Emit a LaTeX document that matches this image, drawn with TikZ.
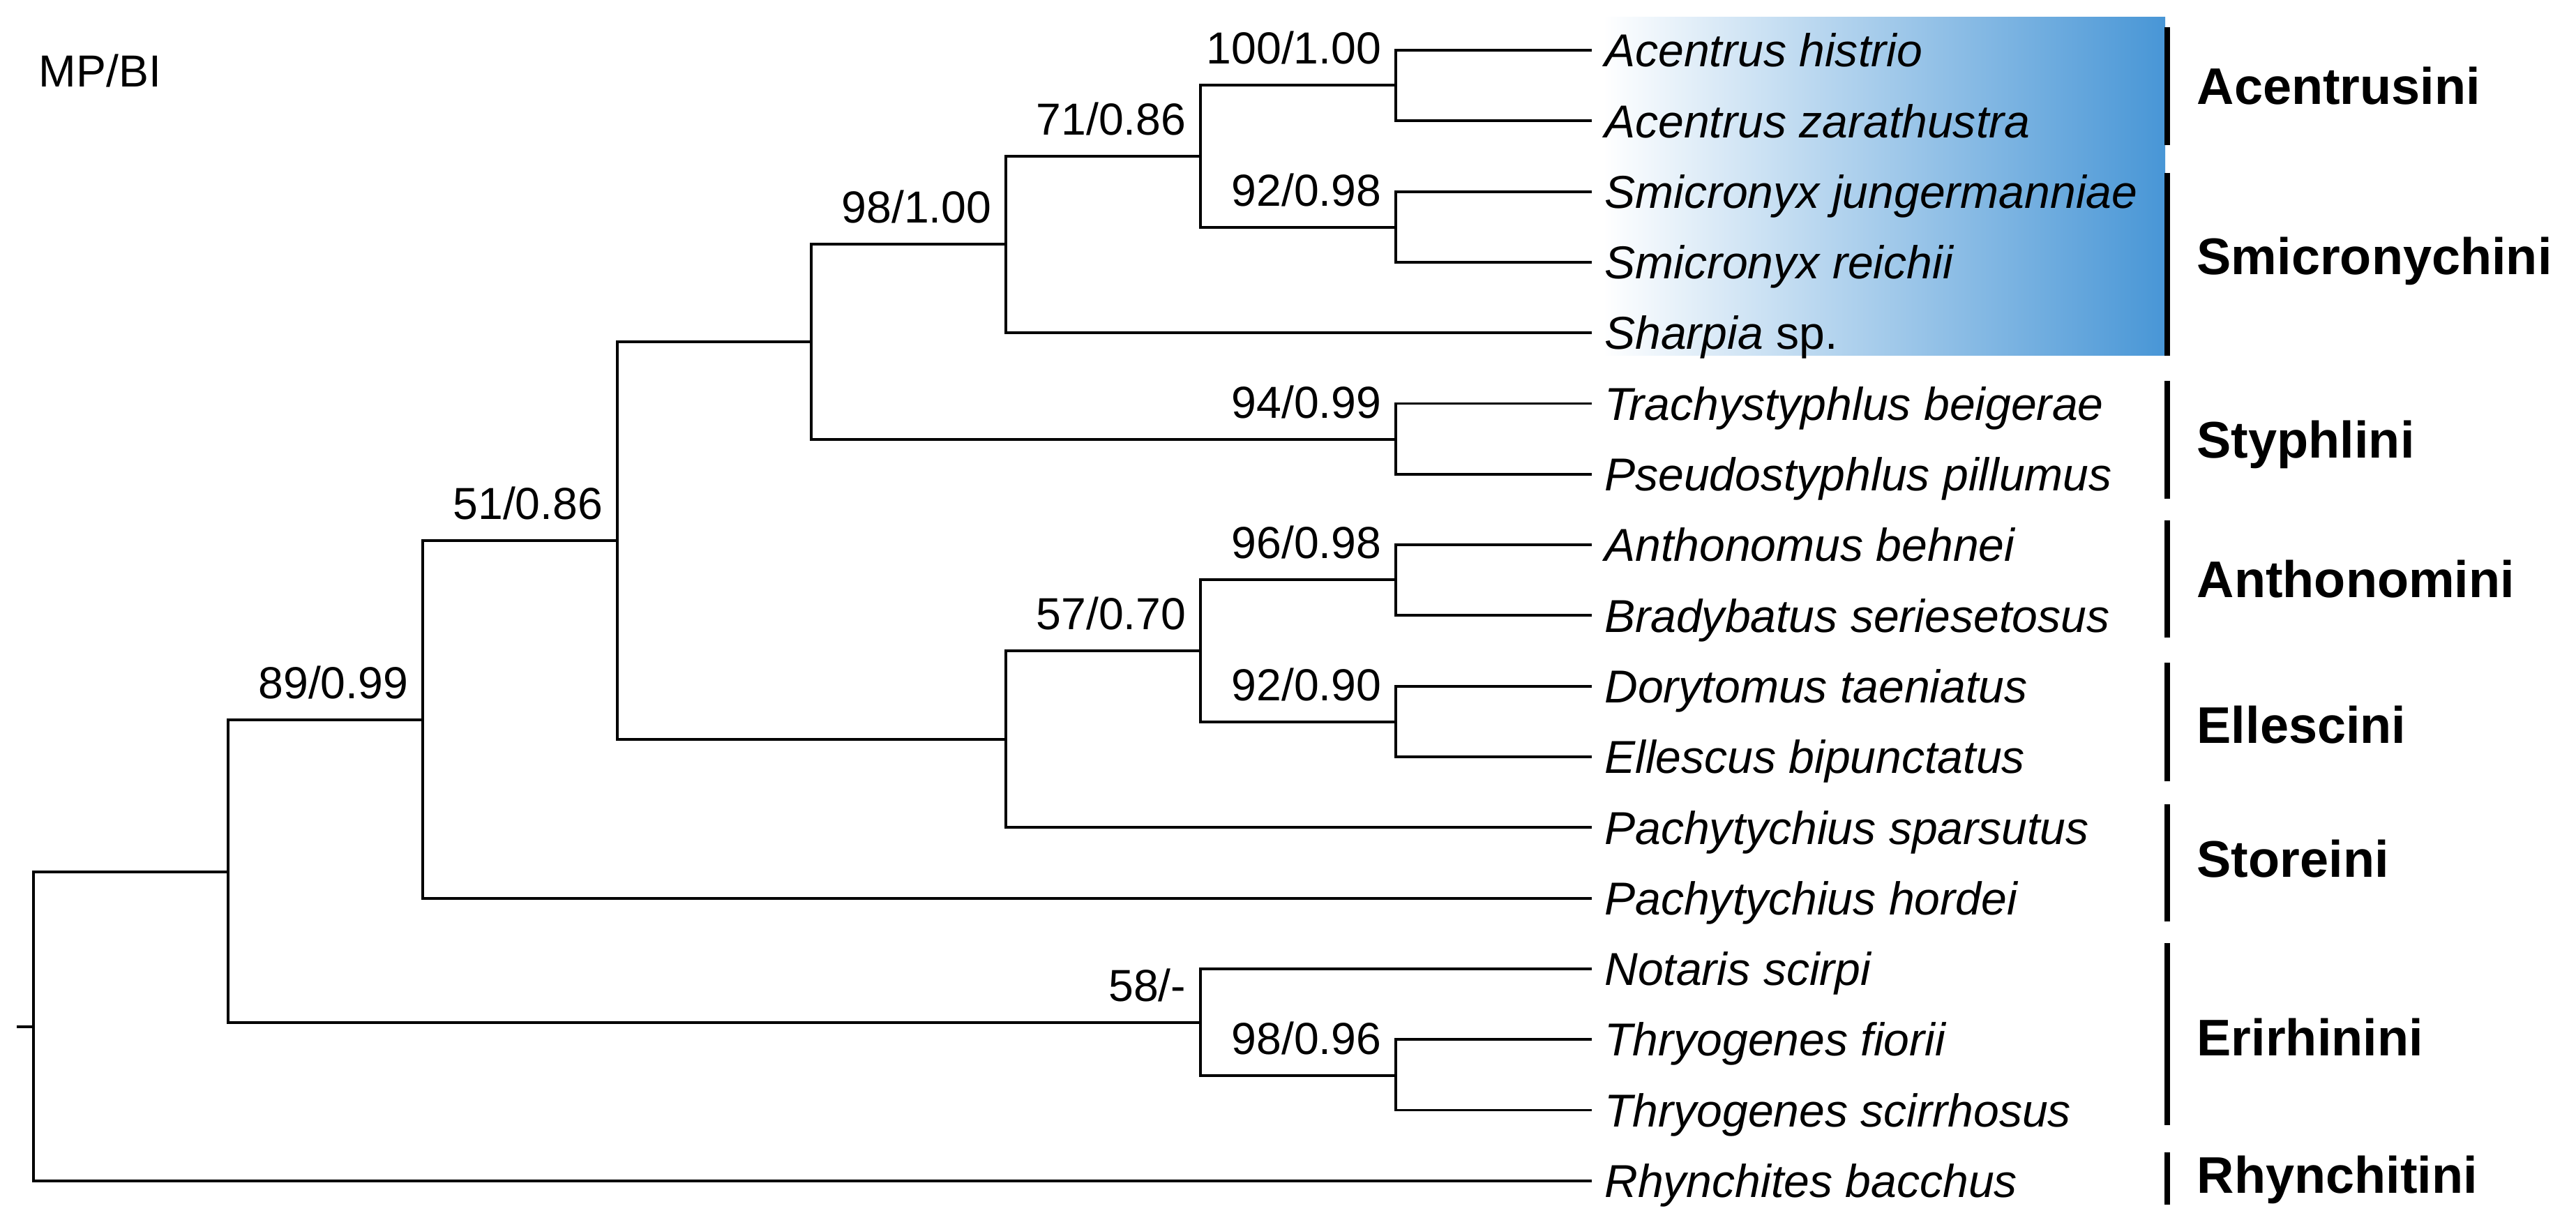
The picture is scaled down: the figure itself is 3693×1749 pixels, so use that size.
\documentclass[tikz,border=0pt]{standalone}
\usepackage{fontspec}
\setmainfont{Liberation Sans}
\usepackage{tikz}
\usetikzlibrary{positioning}
\usepackage{xcolor}
\definecolor{cladeblue}{RGB}{72,150,214}
\newcommand\treefont{\fontsize{18.3pt}{22pt}\selectfont}
\newcommand\taxonfont{\fontsize{18.8pt}{22pt}\selectfont\itshape}
\newcommand\cladefont{\fontsize{21pt}{25pt}\selectfont\bfseries}

\begin{document}
\begin{tikzpicture}[x=0.01cm,y=-0.01cm,
    branch/.style={line width=1.1pt},
    leaf/.style={anchor=west,font=\taxonfont,inner xsep=5pt,inner ysep=0pt,text height=13.5pt,text depth=0pt},
    support/.style={anchor=base east,font=\treefont,inner sep=0pt,xshift=-5.7pt,yshift=8.6pt},
    clade/.style={anchor=west,font=\cladefont,inner sep=0pt,text height=15pt,text depth=0pt},
    cladebar/.style={line width=2.2pt}]
        \useasboundingbox (0,0) rectangle (3693,1749);
        \shade[left color=white,right color=cladeblue] (2298,25) rectangle (3104,510);
        \node[anchor=west,font=\treefont,inner sep=0pt,text height=13.1pt,text depth=0pt] (mpbi) at (55,101) {MP/BI};
        \foreach \i/\name in {1/{Acentrus histrio},2/{Acentrus zarathustra},3/{Smicronyx jungermanniae},
            4/{Smicronyx reichii},5/{Sharpia \textup{sp.}},6/{Trachystyphlus beigerae},7/{Pseudostyphlus pillumus},
            8/{Anthonomus behnei},9/{Bradybatus seriesetosus},10/{Dorytomus taeniatus},11/{Ellescus bipunctatus},
            12/{Pachytychius sparsutus},13/{Pachytychius hordei},14/{Notaris scirpi},15/{Thryogenes fiorii},
            16/{Thryogenes scirrhosus},17/{Rhynchites bacchus}}
          \node[leaf] (l\i) at (2282,{72+101.3*(\i-1)}) {\name};
        \coordinate (stub) at (24,1472);
        \coordinate (root) at (48,1472);
        \coordinate (n89) at (327,1250);
        \coordinate (n51) at (606,1032);
        \coordinate (nC) at (885,775);
        \coordinate (nD) at (1163,490);
        \coordinate (n98) at (1442,350);
        \coordinate (n71) at (1721,224);
        \coordinate (n100) at (2001,122);
        \coordinate (n92a) at (2001,326);
        \coordinate (n94) at (2001,630);
        \coordinate (nE) at (1442,1060);
        \coordinate (n57) at (1721,933);
        \coordinate (n96) at (2001,831);
        \coordinate (n92b) at (2001,1035);
        \coordinate (n58) at (1721,1466);
        \coordinate (n98b) at (2001,1542);
        \draw[line width=0.9pt] (stub) -- (root);
        \draw[branch] (n89) -| (root) |- (l17.west);
        \draw[branch] (n51) -| (n89) |- (n58);
        \draw[branch] (nC) -| (n51) |- (l13.west);
        \draw[branch] (nD) -| (nC) |- (nE);
        \draw[branch] (n98) -| (nD) |- (n94);
        \draw[branch] (n71) -| (n98) |- (l5.west);
        \draw[branch] (n100) -| (n71) |- (n92a);
        \draw[branch] (l1.west) -| (n100) |- (l2.west);
        \draw[branch] (l3.west) -| (n92a) |- (l4.west);
        \draw[branch] (l6.west) -| (n94) |- (l7.west);
        \draw[branch] (n57) -| (nE) |- (l12.west);
        \draw[branch] (n96) -| (n57) |- (n92b);
        \draw[branch] (l8.west) -| (n96) |- (l9.west);
        \draw[branch] (l10.west) -| (n92b) |- (l11.west);
        \draw[branch] (l14.west) -| (n58) |- (n98b);
        \draw[branch] (l15.west) -| (n98b) |- (l16.west);
        \node[support] (s89) at (n51) {89/0.99};
        \node[support] (s51) at (nC) {51/0.86};
        \node[support] (s98) at (n98) {98/1.00};
        \node[support] (s71) at (n71) {71/0.86};
        \node[support] (s100) at (n100) {100/1.00};
        \node[support] (s92a) at (n92a) {92/0.98};
        \node[support] (s94) at (n94) {94/0.99};
        \node[support] (s57) at (n57) {57/0.70};
        \node[support] (s96) at (n96) {96/0.98};
        \node[support] (s92b) at (n92b) {92/0.90};
        \node[support] (s58) at (n58) {58/-};
        \node[support] (s98b) at (n98b) {98/0.96};
        \foreach \top/\bot/\mid/\name in {39/208/123/Acentrusini,248/510/367/Smicronychini,546/715/630/Styphlini,
            746/914/830/Anthonomini,950/1120/1039/Ellescini,1153/1321/1231/Storeini,1352/1613/1487/Erirhinini,
            1652/1727/1684/Rhynchitini}
          {\draw[cladebar] (3107,\top) -- (3107,\bot);
           \node[clade] (c\name) at (3149,\mid) {\name};}
      \end{tikzpicture}
\end{document}
